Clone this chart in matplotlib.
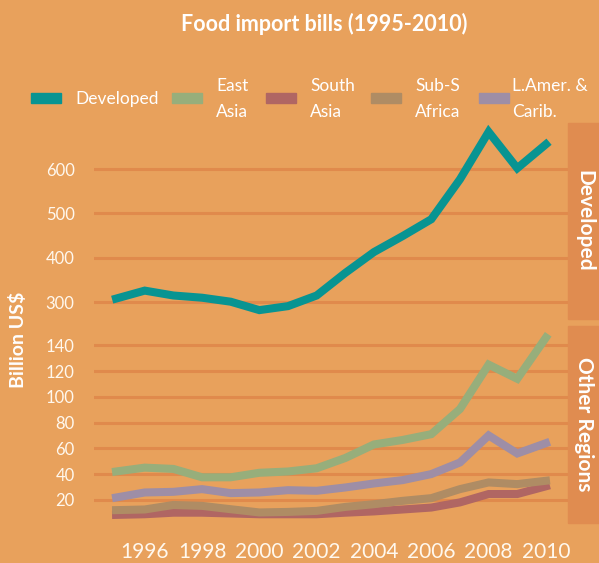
import matplotlib
matplotlib.use("Agg")
import matplotlib.pyplot as plt
from matplotlib.patches import Rectangle

plt.rcParams['font.family'] = ['Lato', 'DejaVu Sans']

years = list(range(1995, 2011))
developed = [308, 326, 315, 310, 301, 282, 291, 315, 366, 413, 449, 487, 577, 684, 602, 656]
east_asia = [42, 45, 44, 37.5, 37.5, 41, 42, 44.5, 52.5, 63, 66.5, 71, 90.5, 125, 114, 146]
south_asia = [8.3, 8.8, 10, 10, 9.4, 8.8, 8.8, 8.8, 10, 11, 12.5, 14, 18, 24.5, 24.5, 30.5]
subs_africa = [12, 12.5, 16, 15.3, 12.7, 10.2, 10.6, 11.4, 14.5, 16.6, 19.2, 21.3, 28.3, 33.5, 32.2, 34.8]
lamer_carib = [21.8, 25.7, 26.2, 28.3, 25.2, 25.7, 27.5, 27, 29.6, 32.7, 35.3, 40, 49, 70, 56, 64]

series_names = ['Developed', 'East\nAsia', 'South\nAsia', 'Sub-S\nAfrica', 'L.Amer. &\nCarib.']
colors = ['#089492', '#97AE7B', '#B06663', '#AF8C64', '#9E8EA6']
top_ticks = [300, 400, 500, 600]
bottom_ticks = [20, 40, 60, 80, 100, 120, 140]
x_ticks = list(range(1996, 2011, 2))

bg = '#E8A15C'
grid_c = '#E08A4C'
strip_c = '#E08C50'
W, H = 599, 563

fig = plt.figure(figsize=(W / 100, H / 100), dpi=100, facecolor=bg)


def box(l, t, r, b):
    return [l / W, 1 - b / H, (r - l) / W, (b - t) / H]


ax1 = fig.add_axes(box(94, 123, 568, 319))
ax2 = fig.add_axes(box(94, 326, 568, 523))

for ax, ticks, lim in [(ax1, top_ticks, (262, 704)), (ax2, bottom_ticks, (2, 155))]:
    ax.set_facecolor(bg)
    ax.set_xlim(1994.23, 2010.77)
    ax.set_ylim(*lim)
    ax.set_yticks(ticks)
    ax.set_yticklabels([str(t) for t in ticks], fontsize=12, color='#FFF8EE')
    ax.grid(axis='y', color=grid_c, linewidth=2.2)
    ax.set_axisbelow(True)
    for s in ax.spines.values():
        s.set_visible(False)
    ax.tick_params(length=0, pad=14)

ax1.set_xticks([])
ax2.set_xticks(x_ticks)
ax2.set_xticklabels([str(x) for x in x_ticks], fontsize=15, color='#FFF8EE')
ax2.tick_params(axis='x', pad=14)

lw = 5.8
ax1.plot(years, developed, color=colors[0], lw=lw, solid_joinstyle='miter')
for vals, c in zip([east_asia, south_asia, subs_africa, lamer_carib], colors[1:]):
    ax2.plot(years, vals, color=c, lw=lw, solid_joinstyle='miter')

# facet strips
for (t, b), lab in [((123, 319), 'Developed'), ((326, 523), 'Other Regions')]:
    fig.patches.append(Rectangle((568 / W, 1 - b / H), (W - 568) / W, (b - t) / H,
                                 transform=fig.transFigure, color=strip_c, zorder=0))
    fig.text(584 / W, 1 - (t + b) / 2 / H, lab, rotation=-90, ha='center', va='center',
             fontsize=15, fontweight='bold', color='white')

fig.text(324 / W, 1 - 24 / H, 'Food import bills (1995-2010)', ha='center', va='center',
         fontsize=15.5, fontweight='bold', color='white')
fig.text(18 / W, 1 - 340 / H, 'Billion US$', rotation=90, ha='center', va='center',
         fontsize=14, fontweight='bold', color='white')

# legend
patch_x = [31, 172, 266, 371, 479]
text_x = [75, 216, 310, 415, 512]
for px, tx, name, c in zip(patch_x, text_x, series_names, colors):
    fig.patches.append(Rectangle((px / W, 1 - 103 / H), 30 / W, 10 / H,
                                 transform=fig.transFigure, color=c))
    fig.text(tx / W, 1 - 99 / H, name, ha='left', va='center', fontsize=12.5,
             color='white', linespacing=1.75)

fig.savefig('out.png', dpi=100, facecolor=bg)
